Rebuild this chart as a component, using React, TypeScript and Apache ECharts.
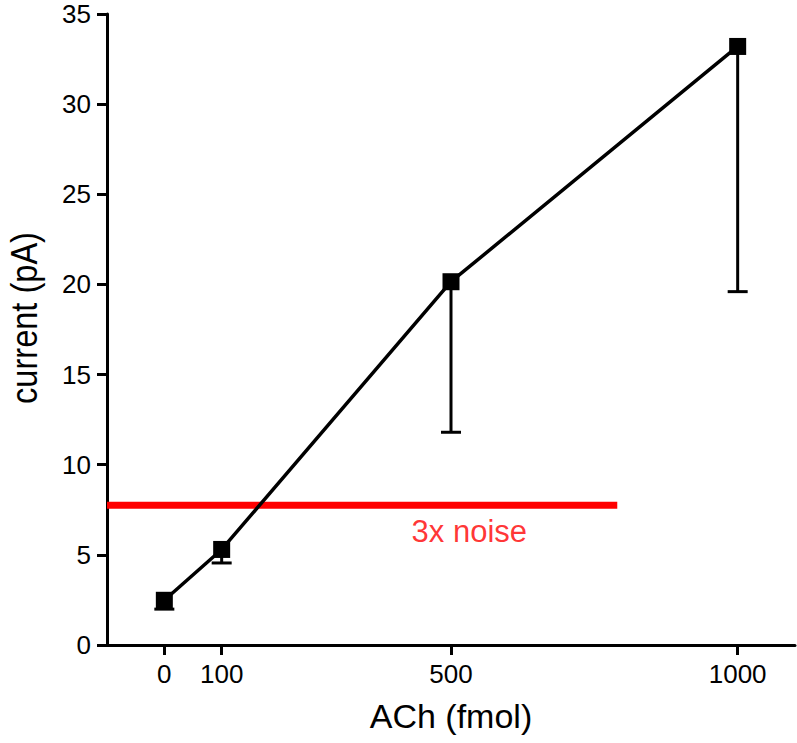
import React, { useEffect, useRef } from "react";
import * as echarts from "echarts";

const doses = [0, 100, 500, 1000];
const currents = [2.48, 5.3, 20.15, 33.2];
const lowerErr = [1.99, 4.55, 11.8, 19.6];
const xTicks = [0, 100, 500, 1000];
const noiseLevel = 7.75;
const noiseExtent = [-100, 790];
const noiseLabel = "3x noise";
const noiseLabelPos = [532, 6.3];
const xTitle = "ACh (fmol)";
const yTitle = "current (pA)";

const FONT = "'Liberation Sans', Arial, Helvetica, sans-serif";

export default function App() {
  const ref = useRef<HTMLDivElement>(null);
  useEffect(() => {
    if (!ref.current) return;
    const chart = echarts.init(ref.current, undefined, { renderer: "svg" });
    const errData = doses.map((d, i) => [d, currents[i], lowerErr[i]]);
    chart.setOption({
      animation: false,
      backgroundColor: "#ffffff",
      grid: { left: 107, right: 2, top: 14, bottom: 98, containLabel: false },
      graphic: [
        {
          type: "text",
          x: 24,
          y: 318,
          rotation: Math.PI / 2,
          scaleX: 0.88,
          style: {
            text: yTitle,
            fontSize: 37,
            fontFamily: FONT,
            fill: "#000",
            align: "center",
            verticalAlign: "middle",
          },
        },
      ],
      xAxis: {
        type: "value",
        min: -100,
        max: 1100,
        name: xTitle,
        nameLocation: "middle",
        nameGap: 54,
        nameTextStyle: { fontSize: 34, color: "#000", fontFamily: FONT },
        axisLine: { show: true, onZero: false, lineStyle: { color: "#000", width: 3 } },
        axisTick: { show: true, length: 10, customValues: xTicks, lineStyle: { color: "#000", width: 3 } },
        axisLabel: {
          customValues: xTicks,
          fontSize: 26,
          color: "#000",
          fontFamily: FONT,
          margin: 16,
          formatter: (v: number) => String(v),
        },
        splitLine: { show: false },
      },
      yAxis: {
        type: "value",
        min: 0,
        max: 35,
        interval: 5,
        axisLine: { show: true, onZero: false, lineStyle: { color: "#000", width: 3 } },
        axisTick: { show: true, length: 10, lineStyle: { color: "#000", width: 3 } },
        axisLabel: { fontSize: 26, color: "#000", fontFamily: FONT, margin: 16 },
        splitLine: { show: false },
      },
      series: [
        {
          type: "line",
          data: [
            [noiseExtent[0], noiseLevel],
            [noiseExtent[1], noiseLevel],
          ],
          symbol: "none",
          lineStyle: { color: "#ff0000", width: 7 },
          z: 1,
        },
        {
          type: "custom",
          data: errData,
          z: 2,
          renderItem: (params: any, api: any) => {
            const x = api.value(0);
            const top = api.coord([x, api.value(1)]);
            const low = api.coord([x, api.value(2)]);
            const half = 10;
            return {
              type: "group",
              children: [
                {
                  type: "line",
                  shape: { x1: top[0], y1: top[1], x2: low[0], y2: low[1] },
                  style: { stroke: "#000", lineWidth: 3 },
                },
                {
                  type: "line",
                  shape: { x1: low[0] - half, y1: low[1], x2: low[0] + half, y2: low[1] },
                  style: { stroke: "#000", lineWidth: 3 },
                },
              ],
            };
          },
        },
        {
          type: "line",
          data: doses.map((d, i) => [d, currents[i]]),
          symbol: "rect",
          symbolSize: 17,
          itemStyle: { color: "#000" },
          lineStyle: { color: "#000", width: 3.5 },
          z: 3,
        },
        {
          type: "scatter",
          data: [noiseLabelPos],
          symbolSize: 0,
          label: {
            show: true,
            position: "inside",
            formatter: noiseLabel,
            fontSize: 31,
            color: "#ff0000",
            fontFamily: FONT,
          },
          z: 4,
        },
      ],
    });
    return () => chart.dispose();
  }, []);
  return (
    <div
      ref={ref}
      style={{ position: "absolute", left: 0, top: 0, width: 797, height: 743 }}
    />
  );
}
